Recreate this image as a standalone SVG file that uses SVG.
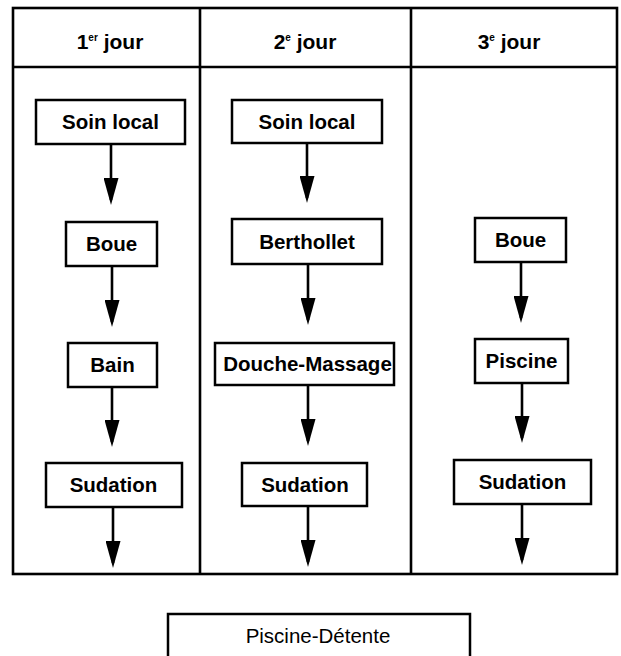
<svg xmlns="http://www.w3.org/2000/svg" width="621" height="656" viewBox="0 0 621 656">
<style>
.frame{fill:none;stroke:#000;stroke-width:2.6}
.box{fill:#fff;stroke:#000;stroke-width:2.5}
.t{font-family:"Liberation Sans",Arial,sans-serif;font-size:20.5px;font-weight:bold;text-anchor:middle;fill:#000}
.h{font-family:"Liberation Sans",Arial,sans-serif;font-size:21px;font-weight:bold;text-anchor:middle;fill:#000}
.r{font-weight:normal}
.arr{stroke:#000;stroke-width:2.6;fill:none;marker-end:url(#ah)}
</style>
<defs>
<marker id="ah" viewBox="0 0 27 15" refX="22" refY="7.5" markerWidth="27" markerHeight="15" markerUnits="userSpaceOnUse" orient="auto">
<path d="M0,0 L27,7.5 L0,15 z" fill="#000"/>
</marker>
</defs>
<rect fill="#fff" x="0" y="0" width="621" height="656"/>
<g id="table">
<rect class="frame" x="13" y="8" width="604" height="566"/>
<line class="frame" x1="13" y1="67" x2="617" y2="67"/>
<line class="frame" x1="200" y1="8" x2="200" y2="574"/>
<line class="frame" x1="411" y1="8" x2="411" y2="574"/>
<text class="h" x="110" y="49">1<tspan font-size="10" dy="-8">er</tspan><tspan dy="8"> jour</tspan></text>
<text class="h" x="305" y="49">2<tspan font-size="10" dy="-8">e</tspan><tspan dy="8"> jour</tspan></text>
<text class="h" x="509" y="49">3<tspan font-size="10" dy="-8">e</tspan><tspan dy="8"> jour</tspan></text>
</g>
<g id="connectors">
<line class="arr" x1="111" y1="144" x2="111" y2="200"/>
<line class="arr" x1="112" y1="266" x2="112" y2="322"/>
<line class="arr" x1="112" y1="387" x2="112" y2="442"/>
<line class="arr" x1="113" y1="507" x2="113" y2="563"/>
<line class="arr" x1="307" y1="143" x2="307" y2="198"/>
<line class="arr" x1="308" y1="264" x2="308" y2="320"/>
<line class="arr" x1="308" y1="385" x2="308" y2="441"/>
<line class="arr" x1="308" y1="506" x2="308" y2="562"/>
<line class="arr" x1="521" y1="262" x2="521" y2="318"/>
<line class="arr" x1="522" y1="383" x2="522" y2="438"/>
<line class="arr" x1="522" y1="504" x2="522" y2="560"/>
</g>
<g id="n1-soin"><rect class="box" x="36" y="100" width="149" height="44"/><text class="t" x="110.5" y="129">Soin local</text></g>
<g id="n1-boue"><rect class="box" x="66" y="222" width="91" height="44"/><text class="t" x="111.5" y="251">Boue</text></g>
<g id="n1-bain"><rect class="box" x="68" y="343" width="89" height="44"/><text class="t" x="112.5" y="372">Bain</text></g>
<g id="n1-sudation"><rect class="box" x="46" y="463" width="136" height="44"/><text class="t" x="113.5" y="492">Sudation</text></g>
<g id="n2-soin"><rect class="box" x="232" y="100" width="150" height="43"/><text class="t" x="307" y="129">Soin local</text></g>
<g id="n2-berthollet"><rect class="box" x="232" y="219" width="150" height="45"/><text class="t" x="307" y="249">Berthollet</text></g>
<g id="n2-douche"><rect class="box" x="215" y="343" width="179" height="42"/><text class="t" x="307.5" y="371">Douche-Massage</text></g>
<g id="n2-sudation"><rect class="box" x="242" y="463" width="125" height="43"/><text class="t" x="305" y="492">Sudation</text></g>
<g id="n3-boue"><rect class="box" x="475" y="218" width="91" height="44"/><text class="t" x="520.5" y="247">Boue</text></g>
<g id="n3-piscine"><rect class="box" x="475" y="339" width="93" height="44"/><text class="t" x="521.5" y="368">Piscine</text></g>
<g id="n3-sudation"><rect class="box" x="454" y="460" width="137" height="44"/><text class="t" x="522.5" y="489">Sudation</text></g>
<g id="n-piscine-detente"><path class="box" d="M168,657 V614 H470 V657"/><text class="t r" x="318" y="643">Piscine-Détente</text></g>
</svg>
